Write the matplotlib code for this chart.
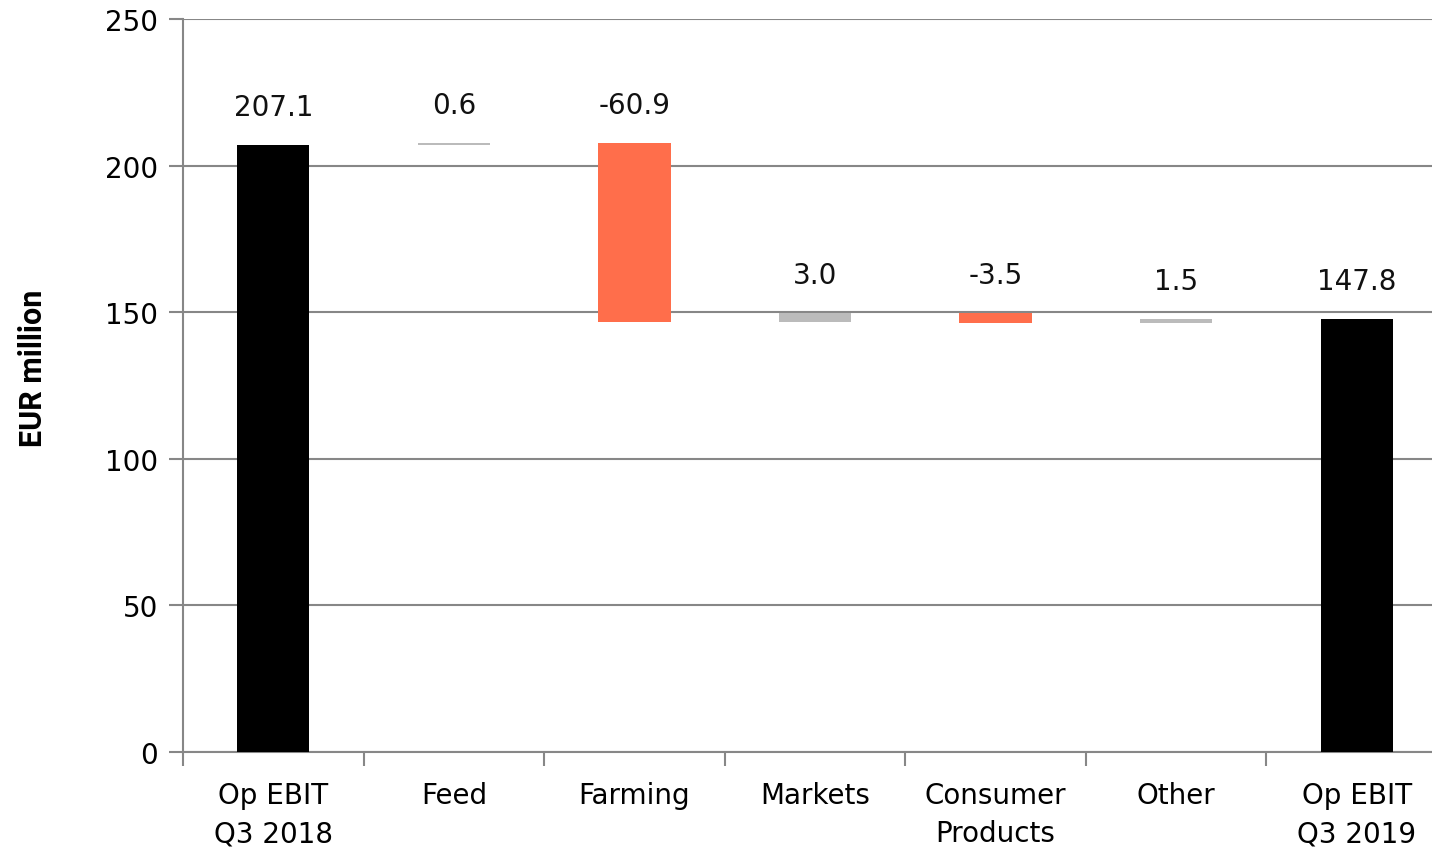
import matplotlib
matplotlib.use("Agg")
import matplotlib.pyplot as plt
import numpy as np

categories = ["Op EBIT\nQ3 2018", "Feed", "Farming", "Markets",
              "Consumer\nProducts", "Other", "Op EBIT\nQ3 2019"]
start_total = 207.1
changes = [0.6, -60.9, 3.0, -3.5, 1.5]
end_total = 147.8

TOTAL_COLOR = "#000000"
UP_COLOR = "#BBBBBB"
DOWN_COLOR = "#FF6E4B"
GRID_COLOR = "#878787"

plt.rcParams["font.family"] = ["DejaVu Sans"]

fig = plt.figure(figsize=(14.32, 8.53), dpi=100)
ax = fig.add_axes([183 / 1432, 100 / 853, 1264 / 1432, 733 / 853])

x = np.arange(len(categories))
bottoms, heights, colors, labels = [], [], [], []

bottoms.append(0)
heights.append(start_total)
colors.append(TOTAL_COLOR)
labels.append(f"{start_total:.1f}")

level = start_total
for c in changes:
    if c >= 0:
        bottoms.append(level)
        heights.append(c)
        colors.append(UP_COLOR)
    else:
        bottoms.append(level + c)
        heights.append(-c)
        colors.append(DOWN_COLOR)
    labels.append(f"{c:.1f}")
    level += c

bottoms.append(0)
heights.append(end_total)
colors.append(TOTAL_COLOR)
labels.append(f"{end_total:.1f}")

ax.bar(x, heights, bottom=bottoms, width=0.40, color=colors, zorder=3)

for xi, b, h, lab in zip(x, bottoms, heights, labels):
    ax.annotate(lab, (xi, b + h), xytext=(0, 17), textcoords="offset points",
                ha="center", va="bottom", fontsize=20, color="#111111")

ax.set_xlim(-0.5, len(categories) - 0.5)
ax.set_ylim(0, 250)
ax.set_yticks(np.arange(0, 251, 50))
ax.yaxis.grid(True, color=GRID_COLOR, linewidth=1.5, zorder=0)
ax.set_axisbelow(True)

# category labels centred, tick marks on the category boundaries
ax.set_xticks(x)
ax.set_xticklabels(categories, fontsize=20, linespacing=1.45)
ax.tick_params(axis="x", which="major", length=0, pad=21)
ax.set_xticks(np.arange(-0.5, len(categories) + 0.5, 1), minor=True)
ax.tick_params(axis="x", which="minor", length=10, width=1.5, color=GRID_COLOR,
               direction="out")
ax.tick_params(axis="y", length=10, width=1.5, color=GRID_COLOR, labelsize=20,
               pad=8, direction="out")

for side in ["top", "right"]:
    ax.spines[side].set_visible(False)
for side in ["left", "bottom"]:
    ax.spines[side].set_color(GRID_COLOR)
    ax.spines[side].set_linewidth(1.5)

fig.text(33 / 1432, 1 - 368 / 853, "EUR million", rotation=90, ha="center",
         va="center", fontsize=22, fontweight="bold",
         family=["Liberation Sans Narrow", "Roboto", "DejaVu Sans"])

fig.savefig("out.png", dpi=100)
